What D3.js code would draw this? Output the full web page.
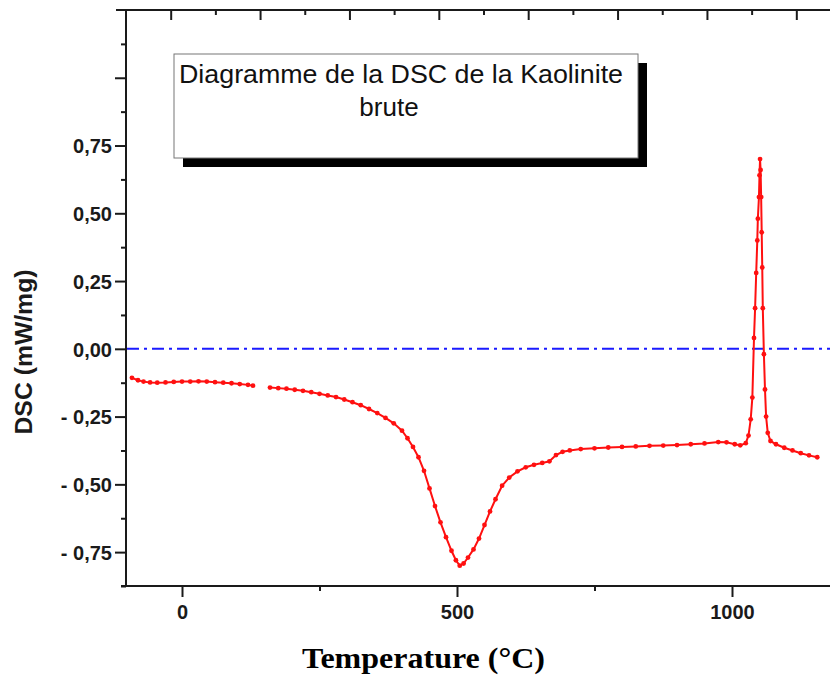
<!DOCTYPE html>
<html>
<head>
<meta charset="utf-8">
<script src="https://cdn.jsdelivr.net/npm/d3@7"></script>
<style>
  body { margin: 0; background: #fff; }
  svg { display: block; }
</style>
</head>
<body>
<div id="chart"></div>
<script>
// DSC curve (null = gap in the record)
const temperature = [
  -91, -80, -70, -58, -45, -30, -15, 0, 15, 30, 45, 60, 75, 90, 105, 120, 129,
  null,
  160, 175, 190, 205, 220, 235, 250, 265, 280, 295, 310, 325, 340, 355, 370, 385,
  400, 410, 420, 430, 440, 450, 460, 470, 480, 490, 498, 505, 512, 520, 530, 540,
  550, 560, 570, 582, 595, 610, 625, 640, 655, 668, 680, 692, 705, 725, 750, 775,
  800, 825, 850, 875, 900, 925, 950, 975, 990, 1005, 1015, 1025, 1030, 1034, 1037,
  1040, 1042, 1044, 1046, 1047, 1049, 1050, 1051, 1052, 1053, 1054, 1055, 1056,
  1058, 1060, 1062, 1065, 1070, 1080, 1095, 1110, 1125, 1140, 1155
];
const dsc = [
  -0.107, -0.116, -0.121, -0.124, -0.125, -0.124, -0.122, -0.121, -0.121, -0.120,
  -0.121, -0.123, -0.125, -0.127, -0.130, -0.133, -0.136,
  null,
  -0.143, -0.145, -0.147, -0.151, -0.155, -0.160, -0.166, -0.172, -0.178, -0.187,
  -0.197, -0.208, -0.222, -0.237, -0.255, -0.275, -0.302, -0.330, -0.362, -0.400,
  -0.450, -0.515, -0.580, -0.640, -0.695, -0.745, -0.780, -0.800, -0.792, -0.770,
  -0.740, -0.700, -0.650, -0.600, -0.555, -0.505, -0.475, -0.452, -0.437, -0.428,
  -0.421, -0.415, -0.392, -0.380, -0.375, -0.370, -0.367, -0.364, -0.362, -0.360,
  -0.358, -0.357, -0.355, -0.352, -0.349, -0.344, -0.345, -0.352, -0.356, -0.348,
  -0.320, -0.260, -0.180, 0.040, 0.150, 0.280, 0.400, 0.480, 0.560, 0.640, 0.700,
  0.660, 0.560, 0.430, 0.300, 0.150, -0.020, -0.150, -0.250, -0.310, -0.340,
  -0.352, -0.365, -0.375, -0.385, -0.393, -0.400
];

const xTicks = [0, 500, 1000];
const xMinorTicks = [250, 750, 1250];
const yTicks = [-0.75, -0.5, -0.25, 0, 0.25, 0.5, 0.75, 1.0];
const yMinorTicks = [-0.875, -0.625, -0.375, -0.125, 0.125, 0.375, 0.625, 0.875, 1.125];
const yLabelled = [-0.75, -0.5, -0.25, 0, 0.25, 0.5, 0.75];
const topTicks = [0, 1, 2, 3, 4, 5, 6, 7];
const topMinorTicks = [0.5, 1.5, 2.5, 3.5, 4.5, 5.5, 6.5];

const titleLines = ["Diagramme de la DSC de la Kaolinite", "brute"];

const width = 830, height = 675;
const svg = d3.select("#chart").append("svg")
  .attr("width", width).attr("height", height);

const x = d3.scaleLinear().domain([-100, 1200]).range([127, 842]);
const y = d3.scaleLinear().domain([-0.875, 1.25]).range([586, 10]);
const xTop = d3.scaleLinear().domain([-0.5, 7.5]).range([126, 841]);

const axisColor = "#1a1a1a";

function fmtY(v) {
  const s = Math.abs(v).toFixed(2).replace(".", ",");
  return v < 0 ? "- " + s : s;
}

// axis frame lines
svg.append("line").attr("x1", 126).attr("x2", 126).attr("y1", 10).attr("y2", 586)
  .attr("stroke", axisColor).attr("stroke-width", 2);
svg.append("line").attr("x1", 121).attr("x2", width).attr("y1", 586).attr("y2", 586)
  .attr("stroke", axisColor).attr("stroke-width", 2);
svg.append("line").attr("x1", 116).attr("x2", width).attr("y1", 10).attr("y2", 10)
  .attr("stroke", axisColor).attr("stroke-width", 2);

// left axis
const gy = svg.append("g").attr("transform", "translate(126,0)")
  .call(d3.axisLeft(y).tickValues(yTicks).tickSize(11).tickPadding(3)
    .tickFormat(d => yLabelled.includes(d) ? fmtY(d) : ""));
svg.append("g").attr("transform", "translate(126,0)")
  .call(d3.axisLeft(y).tickValues(yMinorTicks).tickSize(5).tickFormat(""));

// bottom axis
svg.append("g").attr("transform", "translate(0,586)")
  .call(d3.axisBottom(x).tickValues(xTicks).tickSize(11).tickPadding(8).tickFormat(d3.format("d")));
svg.append("g").attr("transform", "translate(0,586)")
  .call(d3.axisBottom(x).tickValues(xMinorTicks).tickSize(5).tickFormat(""));

// top axis, ticks pointing inward
svg.append("g").attr("transform", "translate(0,10)")
  .call(d3.axisTop(xTop).tickValues(topTicks).tickSize(-10).tickFormat(""));
svg.append("g").attr("transform", "translate(0,10)")
  .call(d3.axisTop(xTop).tickValues(topMinorTicks).tickSize(-5).tickFormat(""));

svg.selectAll(".domain").remove();
svg.selectAll(".tick line").attr("stroke", axisColor).attr("stroke-width", 2);
svg.selectAll(".tick text")
  .attr("fill", axisColor)
  .style("font-family", "'Liberation Sans', Arial, sans-serif")
  .style("font-weight", "bold")
  .style("font-size", "20px");
gy.selectAll(".tick text").attr("dy", "0.36em");

// zero line
svg.append("line")
  .attr("x1", 127).attr("x2", width)
  .attr("y1", y(0)).attr("y2", y(0))
  .attr("stroke", "#1a1aff").attr("stroke-width", 2)
  .attr("stroke-dasharray", "12,5,3,5");

// DSC curve
const pts = temperature.map((t, i) => ({ t, v: dsc[i] }));
const line = d3.line()
  .defined(d => d.t !== null)
  .x(d => x(d.t)).y(d => y(d.v));
svg.append("path")
  .datum(pts)
  .attr("d", line)
  .attr("fill", "none")
  .attr("stroke", "#ff1010")
  .attr("stroke-width", 2);
svg.append("g").selectAll("circle")
  .data(pts.filter(d => d.t !== null))
  .join("circle")
  .attr("cx", d => x(d.t)).attr("cy", d => y(d.v))
  .attr("r", 2.4).attr("fill", "#ff1010");

// title box with shadow
svg.append("rect").attr("x", 183).attr("y", 63).attr("width", 464).attr("height", 104)
  .attr("fill", "#000");
svg.append("rect").attr("x", 174).attr("y", 54).attr("width", 464).attr("height", 104)
  .attr("fill", "#fff").attr("stroke", "#777").attr("stroke-width", 1);
svg.append("text").attr("x", 179).attr("y", 83)
  .attr("textLength", 444).attr("lengthAdjust", "spacingAndGlyphs")
  .style("font-family", "'Liberation Sans', Arial, sans-serif")
  .style("font-size", "26px").attr("fill", "#111")
  .text(titleLines[0]);
svg.append("text").attr("x", 389).attr("y", 116).attr("text-anchor", "middle")
  .style("font-family", "'Liberation Sans', Arial, sans-serif")
  .style("font-size", "26px").attr("fill", "#111")
  .text(titleLines[1]);

// axis titles
svg.append("text")
  .attr("x", 302).attr("y", 668)
  .attr("textLength", 243).attr("lengthAdjust", "spacingAndGlyphs")
  .style("font-family", "'Liberation Serif', 'Times New Roman', serif")
  .style("font-weight", "bold").style("font-size", "30px")
  .attr("fill", "#000")
  .text("Temperature (°C)");

svg.append("text")
  .attr("transform", "translate(32,352) rotate(-90)")
  .attr("text-anchor", "middle")
  .attr("textLength", 165).attr("lengthAdjust", "spacingAndGlyphs")
  .style("font-family", "'Liberation Sans', Arial, sans-serif")
  .style("font-weight", "bold").style("font-size", "23px")
  .attr("fill", axisColor)
  .text("DSC (mW/mg)");
</script>
</body>
</html>
